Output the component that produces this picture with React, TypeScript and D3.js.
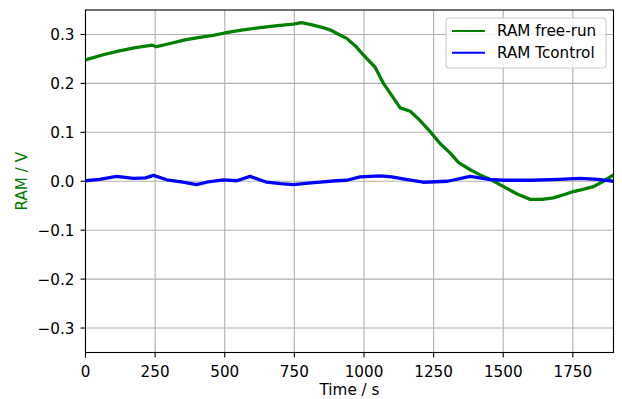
import * as d3 from "d3";

// RAM free-run (green)
const freeRunTime = [
  0, 60, 117, 180, 239, 255, 300, 357, 410, 458, 500, 560, 627, 690, 746, 775,
  810, 853, 880, 910, 938, 970, 998, 1020, 1040, 1070, 1100, 1130, 1166, 1200,
  1237, 1273, 1309, 1340, 1380, 1417, 1460, 1501, 1550, 1597, 1640, 1680, 1720,
  1752, 1790, 1824, 1860, 1896,
];
const freeRunValue = [
  0.248, 0.258, 0.266, 0.273, 0.278, 0.275, 0.281, 0.289, 0.294, 0.298, 0.303,
  0.309, 0.314, 0.318, 0.321, 0.324, 0.32, 0.314, 0.309, 0.3, 0.292, 0.276,
  0.258, 0.245, 0.233, 0.2, 0.175, 0.15, 0.143, 0.125, 0.102, 0.077, 0.058,
  0.038, 0.024, 0.013, 0.002, -0.011, -0.026, -0.037, -0.037, -0.034, -0.027,
  -0.021, -0.016, -0.011, 0.0, 0.013,
];

// RAM Tcontrol (blue)
const tcontrolTime = [
  0, 50, 112, 172, 215, 244, 292, 350, 399, 435, 495, 543, 591, 651, 700, 746,
  800, 842, 900, 938, 986, 1058, 1100, 1150, 1213, 1300, 1381, 1450, 1501, 1600,
  1700, 1776, 1840, 1896,
];
const tcontrolValue = [
  0.001, 0.004, 0.01, 0.006, 0.007, 0.012, 0.003, -0.002, -0.007, -0.002, 0.003,
  0.001, 0.01, -0.002, -0.005, -0.007, -0.004, -0.002, 0.001, 0.002, 0.009,
  0.011, 0.009, 0.004, -0.002, 0.0, 0.01, 0.004, 0.002, 0.002, 0.004, 0.006,
  0.004, 0.0,
];

const xTicks = [0, 250, 500, 750, 1000, 1250, 1500, 1750];
const yTicks = [-0.3, -0.2, -0.1, 0, 0.1, 0.2, 0.3];

const series = [
  { name: "RAM free-run", color: "#008000", t: freeRunTime, v: freeRunValue },
  { name: "RAM Tcontrol", color: "#0000ff", t: tcontrolTime, v: tcontrolValue },
];

const width = 622;
const height = 399;
const margin = { top: 10, right: 8.5, bottom: 46.5, left: 85.5 };
const font = "DejaVu Sans, sans-serif";
const fs = 15.2;

export default function App() {
  const x = d3
    .scaleLinear()
    .domain([0, 1896])
    .range([margin.left, width - margin.right]);
  const y = d3
    .scaleLinear()
    .domain([-0.35, 0.35])
    .range([height - margin.bottom, margin.top]);

  const line = d3
    .line<[number, number]>()
    .x((d) => x(d[0]))
    .y((d) => y(d[1]));

  const fmt = (v: number) => d3.format(".1f")(v).replace("-", "\u2212");
  const x0 = margin.left;
  const x1 = width - margin.right;
  const y0 = height - margin.bottom;
  const y1 = margin.top;

  return (
    <div style={{ position: "fixed", left: 0, top: 0 }}>
      <svg width={width} height={height} style={{ display: "block" }}>
        <rect width={width} height={height} fill="#fff" />
        <defs>
          <clipPath id="plot">
            <rect x={x0} y={y1} width={x1 - x0} height={y0 - y1} />
          </clipPath>
        </defs>
        {/* grid */}
        {xTicks.map((t) => (
          <line key={t} x1={x(t)} x2={x(t)} y1={y1} y2={y0} stroke="#b0b0b0" strokeWidth={1.1} />
        ))}
        {yTicks.map((t) => (
          <line key={t} x1={x0} x2={x1} y1={y(t)} y2={y(t)} stroke="#b0b0b0" strokeWidth={1.1} />
        ))}
        {/* lines */}
        <g clipPath="url(#plot)">
          {series.map((s) => (
            <path
              key={s.name}
              d={line(s.t.map((t, i) => [t, s.v[i]] as [number, number])) || ""}
              fill="none"
              stroke={s.color}
              strokeWidth={3.3}
              strokeLinejoin="round"
            />
          ))}
        </g>
        {/* frame */}
        <rect x={x0} y={y1} width={x1 - x0} height={y0 - y1} fill="none" stroke="#000" strokeWidth={1.1} />
        {/* x axis */}
        {xTicks.map((t) => (
          <g key={t}>
            <line x1={x(t)} x2={x(t)} y1={y0} y2={y0 + 5} stroke="#000" strokeWidth={1.1} />
            <text x={x(t)} y={y0 + 24} textAnchor="middle" fontFamily={font} fontSize={fs} fill="#000">
              {t}
            </text>
          </g>
        ))}
        {/* y axis */}
        {yTicks.map((t) => (
          <g key={t}>
            <line x1={x0 - 5} x2={x0} y1={y(t)} y2={y(t)} stroke="#000" strokeWidth={1.1} />
            <text x={x0 - 11} y={y(t)} dy="0.36em" textAnchor="end" fontFamily={font} fontSize={fs} fill="#000">
              {fmt(t)}
            </text>
          </g>
        ))}
        <text x={(x0 + x1) / 2} y={395} textAnchor="middle" fontFamily={font} fontSize={fs} fill="#000">
          Time / s
        </text>
        <text
          transform={`translate(27,${(y0 + y1) / 2}) rotate(-90)`}
          textAnchor="middle"
          fontFamily={font}
          fontSize={fs}
          fill="#008000"
        >
          RAM / V
        </text>
        {/* legend */}
        <g>
          <rect x={446} y={18} width={160} height={50} rx={3} fill="#fff" fillOpacity={0.8} stroke="#cccccc" strokeWidth={1.1} />
          {series.map((s, i) => (
            <g key={s.name} transform={`translate(0,${31 + i * 21.7})`}>
              <line x1={452} x2={485} y1={0} y2={0} stroke={s.color} strokeWidth={2.1} />
              <text x={497} y={0} dy="0.36em" fontFamily={font} fontSize={fs} fill="#000">
                {s.name}
              </text>
            </g>
          ))}
        </g>
      </svg>
    </div>
  );
}
